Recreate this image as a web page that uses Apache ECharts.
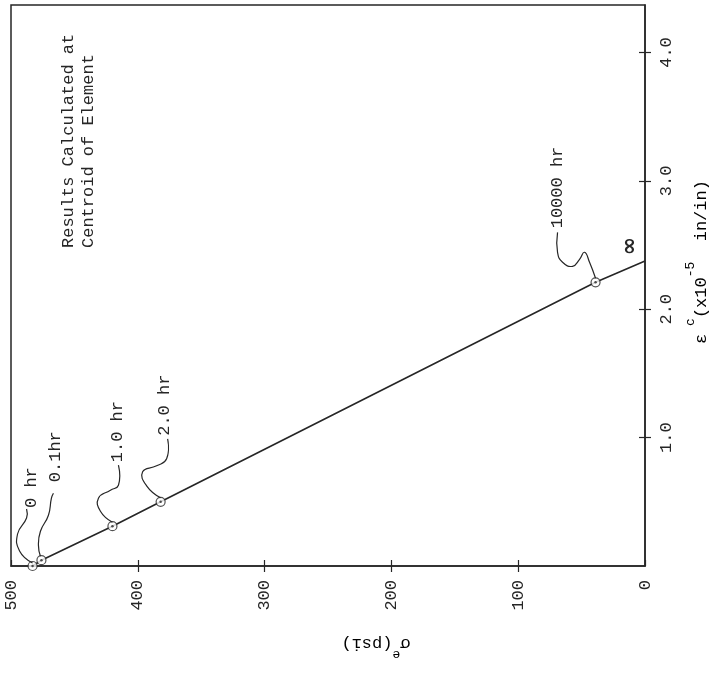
<!DOCTYPE html>
<html>
<head>
<meta charset="utf-8">
<script src="https://cdn.jsdelivr.net/npm/echarts@6/dist/echarts.min.js"></script>
<style>
  html, body { margin: 0; padding: 0; background: #fff; }
  #main { width: 710px; height: 676px; }
</style>
</head>
<body>
<div id="main"></div>
<script>
// effective stress (psi) vs creep strain (x10^-5 in/in), page is rotated 90deg
const stressTicks = [0, 100, 200, 300, 400, 500];
const strainTicks = [1.0, 2.0, 3.0, 4.0];
const timeLabels = ['0 hr', '0.1hr', '1.0 hr', '2.0 hr', '10000 hr'];
const stress = [483, 476, 420, 382, 39];
const strain = [0.0, 0.045, 0.31, 0.50, 2.21];
const endStress = [0];
const endStrain = [2.375];

const ink = '#262626';
const mono = '"Liberation Mono", "DejaVu Sans Mono", monospace';

const chart = echarts.init(document.getElementById('main'));

const points = stress.map((s, i) => [s, strain[i]]);
const curve = points.concat(endStress.map((s, i) => [s, endStrain[i]]));

const tickLabel = {
    rotate: 90,
    fontFamily: mono,
    fontSize: 17,
    color: ink
};
const innerTick = { color: ink, width: 1.2 };

let option = {
    animation: false,
    grid: {
        left: 11, right: 65, top: 5, bottom: 110,
        show: true,
        borderColor: ink,
        borderWidth: 1.5,
        backgroundColor: 'transparent'
    },
    xAxis: [
        {
            type: 'value', inverse: true,
            min: stressTicks[0], max: stressTicks[stressTicks.length - 1], interval: 100,
            position: 'bottom',
            axisLine: { lineStyle: { color: ink, width: 1.5 } },
            axisTick: { inside: true, length: 6, lineStyle: innerTick },
            axisLabel: Object.assign({ margin: 14 }, tickLabel),
            splitLine: { show: false }
        },
        {
            type: 'value', inverse: true,
            min: stressTicks[0], max: stressTicks[stressTicks.length - 1], interval: 100,
            position: 'top',
            axisLine: { show: false },
            axisTick: { inside: true, length: 6, lineStyle: innerTick, customValues: stressTicks.slice(1, -1) },
            axisLabel: { show: false },
            splitLine: { show: false }
        }
    ],
    yAxis: [
        {
            type: 'value', min: 0, max: 4.37, interval: 1,
            position: 'right',
            axisLine: { show: true, lineStyle: { color: ink, width: 1.5 } },
            axisTick: { show: true, inside: true, length: 6, lineStyle: innerTick, customValues: strainTicks },
            axisLabel: Object.assign({
                margin: 13,
                customValues: strainTicks,
                formatter: v => v.toFixed(1)
            }, tickLabel),
            splitLine: { show: false }
        },
        {
            type: 'value', min: 0, max: 4.37, interval: 1,
            position: 'left',
            axisLine: { show: false },
            axisTick: { show: true, inside: true, length: 6, lineStyle: innerTick, customValues: strainTicks },
            axisLabel: { show: false },
            splitLine: { show: false }
        }
    ],
    series: [
        {
            type: 'line',
            data: curve,
            symbol: 'none',
            lineStyle: { color: ink, width: 1.6 },
            z: 2
        },
        {
            type: 'scatter',
            data: points,
            symbol: 'circle',
            symbolSize: 9,
            itemStyle: { color: '#fff', borderColor: ink, borderWidth: 1.2 },
            z: 3
        },
        {
            type: 'scatter',
            data: points,
            symbol: 'circle',
            symbolSize: 2.5,
            itemStyle: { color: ink },
            z: 4
        }
    ]
};

chart.setOption(option);

// squiggly leaders (offsets from each point) and time labels
const leaders = [
    [[0, -3], [-13, -15], [-15, -32], [-6, -48], [-6, -57]],
    [[-1, -4], [-3, -15], [-1, -29], [7, -45], [10, -62], [12, -67]],
    [[0, -4], [-12, -15], [-14, -28], [-2, -36], [6, -41], [6, -61]],
    [[0, -4], [-14, -16], [-18, -30], [-4, -36], [6, -43], [7, -63]],
    [[0, -4], [-6, -20], [-11, -30], [-16, -23], [-23, -16], [-33, -20], [-38, -30], [-38, -50]]
];
const labelOffsets = [[-1, -58], [14, -78], [5, -64], [4, -66], [-38, -54]];

const graphics = [];
points.forEach((p, i) => {
    const [px, py] = chart.convertToPixel({ gridIndex: 0 }, p);
    graphics.push({
        type: 'polyline',
        shape: { points: leaders[i].map(d => [px + d[0], py + d[1]]), smooth: 0.5 },
        style: { stroke: ink, lineWidth: 1.2, fill: null },
        z: 10
    });
    graphics.push({
        type: 'text',
        x: px + labelOffsets[i][0], y: py + labelOffsets[i][1],
        rotation: Math.PI / 2,
        style: {
            text: timeLabels[i], fontFamily: mono, fontSize: 17, fill: ink,
            align: 'left', verticalAlign: 'middle'
        },
        z: 10
    });
});

// infinity mark at the end of the line
const [ex, ey] = chart.convertToPixel({ gridIndex: 0 }, [endStress[0], endStrain[0]]);
graphics.push({
    type: 'text', x: ex - 15, y: ey - 15, rotation: Math.PI / 2,
    style: { text: '\u221E', fontFamily: '"DejaVu Sans", sans-serif', fontSize: 22, fontWeight: 'bold', fill: ink, align: 'center', verticalAlign: 'middle' },
    z: 10
});

// note block
graphics.push({
    type: 'text', x: 78, y: 248, rotation: Math.PI / 2,
    style: {
        text: 'Results Calculated at\nCentroid of Element',
        fontFamily: mono, fontSize: 17, lineHeight: 20, fill: ink,
        align: 'left', verticalAlign: 'middle'
    },
    z: 10
});

// axis titles
const rich = {
    b: { fontFamily: mono, fontSize: 17, color: ink, lineHeight: 26, verticalAlign: 'bottom' },
    s: { fontFamily: mono, fontSize: 13, color: ink, lineHeight: 26, verticalAlign: 'top' }
};
graphics.push({
    type: 'text', x: 376, y: 648, rotation: Math.PI,
    style: { text: '{b|\u03C3}{s|e}{b|(psi)}', rich: rich, align: 'center', verticalAlign: 'middle' },
    z: 10
});
graphics.push({
    type: 'text', x: 697, y: 262, rotation: Math.PI / 2,
    style: { text: '{b|\u03B5}{s| c}{b|(x10}{s|-5}{b|  in/in)}', rich: rich, align: 'center', verticalAlign: 'middle' },
    z: 10
});

chart.setOption({ graphic: graphics });
</script>
</body>
</html>
